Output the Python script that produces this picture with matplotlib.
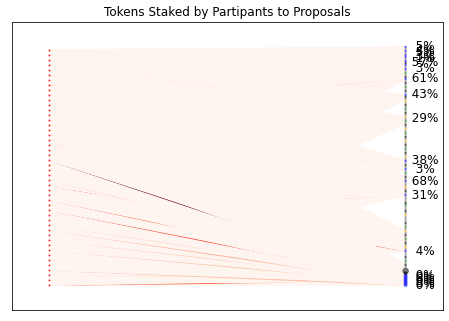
import numpy as np
import matplotlib
matplotlib.use('Agg')
import matplotlib.pyplot as plt
from matplotlib import colors
from matplotlib.collections import LineCollection

# participants (left column) and proposals (right column), bottom to top
n_participants = 48
participant_size = 4

# proposal status, one char per proposal, bottom to top
# c=candidate, a=active, o=completed, f=failed, k=killed
proposal_status = ("cccccckkff" "kfofkffcfa" "fkfofkfafo" "fkfffafkff"
                   "okfffcfkfa" "ffcfkfofcf" "kfcfafkfof" "kfafkfofaf"
                   "kfofafkfof" "kfafkcfkfo" "fkfckfofcf" "ckcfccfcfc")

# bigger requested funds at the bottom
funds_big = {0: 9, 1: 9, 2: 9, 3: 9, 4: 9, 5: 9, 6: 6, 7: 30}
funds_default = 2

# conviction as percent of trigger, for candidate proposals
candidate_pct = {0: 0, 1: 8, 2: 0, 3: 6, 4: 0, 5: 0, 17: 4, 45: 31, 52: 68,
                 58: 3, 62: 38, 83: 29, 95: 43, 103: 61, 108: 3, 111: 57,
                 113: 1, 114: 3, 116: 5, 117: 4, 119: 5}

# runs of proposals with no support edges
no_edge_runs = [(11, 16), (28, 44), (55, 57), (63, 80), (85, 92), (96, 102)]

# (participant, proposal, tokens) for the stakes that stand out
big_stakes = [(25, 3, 1.0), (20, 17, 0.58), (17, 5, 0.5), (15, 2, 0.58),
              (0, 2, 0.5), (24, 111, 0.4), (11, 1, 0.28), (21, 8, 0.22),
              (30, 95, 0.12), (35, 103, 0.1), (28, 62, 0.12), (12, 3, 0.15),
              (9, 2, 0.18), (7, 1, 0.2), (5, 17, 0.12), (3, 0, 0.22),
              (2, 4, 0.15), (19, 52, 0.1), (14, 45, 0.1), (38, 58, 0.08),
              (33, 83, 0.1), (40, 113, 0.1), (44, 117, 0.08), (40, 119, 0.08),
              (36, 111, 0.1), (30, 117, 0.08), (27, 103, 0.1), (42, 95, 0.06),
              (45, 83, 0.06), (32, 62, 0.06)]

STATUS_COLOR = {'c': 'blue', 'a': 'orange', 'o': 'green', 'f': 'gray', 'k': 'black'}


def main():
    N = n_participants
    M = len(proposal_status)

    part_pos = np.array([[0, 2 * i - N] for i in range(N)], dtype=float)
    prop_pos = np.array([[1, 2 * N / M * j - N] for j in range(M)], dtype=float)

    tokens = np.zeros((N, M))
    for i, j, t in big_stakes:
        tokens[i, j] = t

    connected = np.ones(M, dtype=bool)
    for a, b in no_edge_runs:
        connected[a:b + 1] = False

    cNorm = colors.Normalize(vmin=0, vmax=tokens.max())
    cmap = plt.get_cmap('Reds')

    segs, ecols = [], []
    for i in range(N):
        for j in range(M):
            if not connected[j]:
                continue
            segs.append([part_pos[i], prop_pos[j]])
            ecols.append(cmap(cNorm(tokens[i, j])))

    fig = plt.figure(figsize=(449 / 72, 321 / 72), dpi=72)
    ax = fig.add_axes([12 / 449, 11 / 321, 431 / 449, 288 / 321])

    ax.add_collection(LineCollection(segs, colors=ecols, linewidths=1.5, zorder=1))

    ax.scatter(part_pos[:, 0], part_pos[:, 1], s=participant_size, c='red',
               alpha=0.8, linewidths=0, zorder=2)
    prop_sizes = [funds_big.get(j, funds_default) for j in range(M)]
    prop_cols = [STATUS_COLOR[s] for s in proposal_status]
    ax.scatter(prop_pos[:, 0], prop_pos[:, 1], s=prop_sizes, c=prop_cols,
               alpha=0.5, zorder=2)

    for j, pct in candidate_pct.items():
        ax.text(prop_pos[j, 0], prop_pos[j, 1], "          " + str(pct) + '%',
                fontsize=12, ha='center', va='center', zorder=3)

    # padding like networkx, then default margins
    allpos = np.vstack((part_pos, prop_pos))
    minx, miny = allpos.min(axis=0)
    maxx, maxy = allpos.max(axis=0)
    padx, pady = 0.05 * (maxx - minx), 0.05 * (maxy - miny)
    ax.update_datalim([(minx - padx, miny - pady), (maxx + padx, maxy + pady)])
    ax.autoscale_view()

    ax.tick_params(axis='both', which='both', bottom=False, left=False,
                   labelbottom=False, labelleft=False)
    ax.set_title('Tokens Staked by Partipants to Proposals', fontsize=12)
    fig.savefig('out.png', dpi=72)


if __name__ == '__main__':
    main()
